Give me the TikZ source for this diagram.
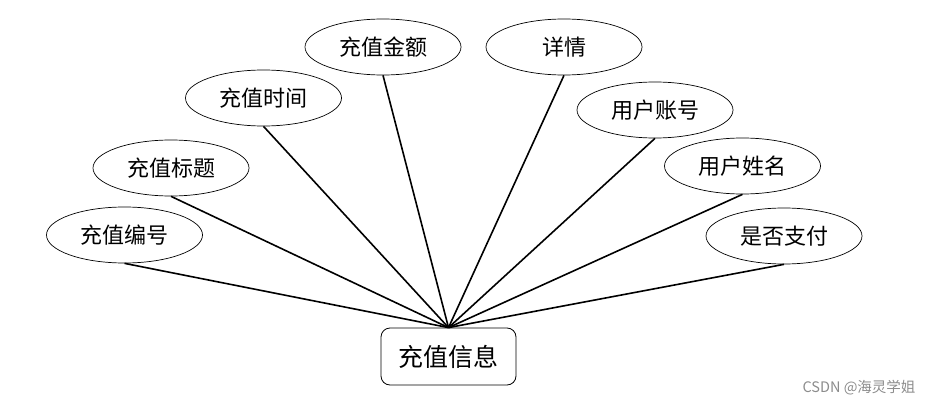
\documentclass[tikz,border=0pt]{standalone}
\usepackage{fontspec}
\newfontfamily\cjk{Noto Sans CJK SC}
\usetikzlibrary{shapes.geometric}
\begin{document}
\begin{tikzpicture}[x=1pt,y=-1pt,
  attr/.style={draw, ellipse, line width=0.7pt, minimum width=156pt, minimum height=56pt, inner sep=0pt, font=\cjk\fontsize{22}{26}\selectfont},
  ent/.style={draw, rounded corners=9pt, line width=0.8pt, minimum width=135pt, minimum height=57pt, inner sep=0pt, font=\cjk\fontsize{25}{29}\selectfont},
  link/.style={line width=1.6pt}]
\useasboundingbox (0,0) rectangle (934,406);
\node[ent] (e) at (448.5,356.5) {充值信息};
\node[attr] (a1) at (124.5,235) {充值编号};
\node[attr] (a2) at (171,168) {充值标题};
\node[attr] (a3) at (263.5,98) {充值时间};
\node[attr] (a4) at (383,47) {充值金额};
\node[attr] (a5) at (564,47) {详情};
\node[attr] (a6) at (655,110) {用户账号};
\node[attr] (a7) at (742.5,166) {用户姓名};
\node[attr] (a8) at (784,236) {是否支付};
\foreach \i in {1,...,8} \draw[link] (a\i.south) -- (e.north);
\node[text=black!45, font=\cjk\fontsize{14.5}{16}\selectfont, anchor=east] (wm) at (919,388) {CSDN @海灵学姐};
\end{tikzpicture}
\end{document}
